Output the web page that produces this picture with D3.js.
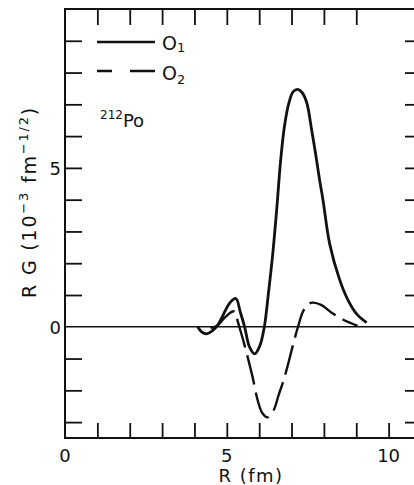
<!DOCTYPE html>
<html>
<head>
<meta charset="utf-8">
<script src="https://cdn.jsdelivr.net/npm/d3@7"></script>
<style>
  body { margin: 0; background: #fff; }
  text { font-family: "DejaVu Sans", sans-serif; fill: #111; }
</style>
</head>
<body>
<svg id="chart" width="414" height="485"></svg>
<script>
// O1 (solid) and O2 (dashed) radial form factors
const o1 = [
  [4.10, 0.00], [4.22, -0.16], [4.38, -0.22], [4.55, -0.13], [4.72, 0.05],
  [4.90, 0.40], [5.10, 0.76], [5.28, 0.89], [5.42, 0.45], [5.55, 0.00],
  [5.70, -0.63], [5.86, -0.85], [6.02, -0.60], [6.16, 0.00], [6.28, 1.00],
  [6.42, 2.30], [6.55, 3.80], [6.66, 5.20], [6.78, 6.30], [6.92, 7.05],
  [7.05, 7.40], [7.19, 7.47], [7.32, 7.38], [7.47, 7.05], [7.62, 6.20],
  [7.75, 5.40], [7.87, 4.60], [7.97, 4.00], [8.18, 2.60], [8.48, 1.50],
  [8.74, 0.85], [9.03, 0.38], [9.32, 0.13]
];
const o2 = [
  [4.50, -0.04], [4.72, 0.05], [4.95, 0.30], [5.15, 0.47], [5.25, 0.48],
  [5.34, 0.16], [5.50, -0.40], [5.65, -0.98], [5.80, -1.60], [5.95, -2.30],
  [6.10, -2.72], [6.27, -2.85], [6.45, -2.62], [6.60, -2.15], [6.75, -1.70],
  [6.90, -1.15], [7.05, -0.55], [7.20, 0.00], [7.35, 0.47], [7.50, 0.70],
  [7.65, 0.76], [7.93, 0.68], [8.24, 0.44], [8.60, 0.22], [9.04, 0.03]
];
const xTicks = d3.range(0, 11);
const xTopTicks = d3.range(1, 10);
const xLabels = [0, 5, 10];
const yTicks = [-3, -2, -1, 1, 2, 3, 4, 5, 6, 7, 8, 9];
const yLabels = [0, 5];

const svg = d3.select("#chart");
const x = d3.scaleLinear().domain([0, 11]).range([65, 421]);
const y = d3.scaleLinear().domain([-3.5, 10]).range([438, 9]);

// frame
svg.append("rect")
  .attr("x", x(0)).attr("y", y(10))
  .attr("width", x(11) - x(0)).attr("height", y(-3.5) - y(10))
  .attr("fill", "none").attr("stroke", "#111").attr("stroke-width", 2);

const tickStyle = g => {
  g.select(".domain").remove();
  g.selectAll(".tick line").attr("stroke", "#111").attr("stroke-width", 1.8);
  g.selectAll(".tick text").remove();
};

// inward ticks on all four sides
svg.append("g").attr("transform", `translate(0,${y(-3.5)})`)
  .call(d3.axisTop(x).tickValues(xTicks.slice(1)).tickSize(15)).call(tickStyle);
svg.append("g").attr("transform", `translate(0,${y(10)})`)
  .call(d3.axisBottom(x).tickValues(xTopTicks).tickSize(16)).call(tickStyle);
svg.append("g").attr("transform", `translate(${x(0)},0)`)
  .call(d3.axisRight(y).tickValues(yTicks).tickSize(17)).call(tickStyle);
svg.append("g").attr("transform", `translate(${x(11)},0)`)
  .call(d3.axisLeft(y).tickValues(yTicks).tickSize(16)).call(tickStyle);

// tick labels
svg.append("g").selectAll("text").data(xLabels).join("text")
  .attr("x", d => x(d)).attr("y", 462)
  .attr("text-anchor", "middle").attr("font-size", 18)
  .text(d => d);
svg.append("g").selectAll("text").data(yLabels).join("text")
  .attr("x", 61).attr("y", d => y(d) + 7)
  .attr("text-anchor", "end").attr("font-size", 18)
  .text(d => d);

// zero line
svg.append("line")
  .attr("x1", x(0)).attr("x2", x(11))
  .attr("y1", y(0)).attr("y2", y(0))
  .attr("stroke", "#111").attr("stroke-width", 1.6);

const line = d3.line()
  .x(d => x(d[0])).y(d => y(d[1]))
  .curve(d3.curveCatmullRom.alpha(0.5));

svg.append("path").datum(o1)
  .attr("d", line).attr("fill", "none")
  .attr("stroke", "#111").attr("stroke-width", 2.8);
svg.append("path").datum(o2)
  .attr("d", line).attr("fill", "none")
  .attr("stroke", "#111").attr("stroke-width", 2.4)
  .attr("stroke-dasharray", "30,8");

// legend
svg.append("line").attr("x1", 97).attr("x2", 155).attr("y1", 42).attr("y2", 42)
  .attr("stroke", "#111").attr("stroke-width", 2.6);
svg.append("line").attr("x1", 97).attr("x2", 155).attr("y1", 71).attr("y2", 71)
  .attr("stroke", "#111").attr("stroke-width", 2.6)
  .attr("stroke-dasharray", "15,18,25");

const lab1 = svg.append("text").attr("x", 162).attr("y", 50).attr("font-size", 19);
lab1.append("tspan").text("O");
lab1.append("tspan").attr("font-size", 13).attr("dy", 2).text("1");
const lab2 = svg.append("text").attr("x", 162).attr("y", 80).attr("font-size", 19);
lab2.append("tspan").text("O");
lab2.append("tspan").attr("font-size", 13).attr("dy", 4).text("2");

const iso = svg.append("text").attr("x", 100).attr("y", 127).attr("font-size", 18);
iso.append("tspan").attr("font-size", 12).attr("dy", -8).text("212");
iso.append("tspan").attr("dy", 8).text("Po");

// axis titles
svg.append("text")
  .attr("x", 251).attr("y", 482)
  .attr("text-anchor", "middle").attr("font-size", 18)
  .attr("letter-spacing", 1.5)
  .text("R (fm)");

const yt = svg.append("text")
  .attr("transform", "translate(36,202) rotate(-90)")
  .attr("text-anchor", "middle").attr("font-size", 19)
  .attr("letter-spacing", 1.8);
yt.append("tspan").text("R G (10");
yt.append("tspan").attr("font-size", 13).attr("dy", -8).text("−3");
yt.append("tspan").attr("dy", 8).text(" fm");
yt.append("tspan").attr("font-size", 13).attr("dy", -8).text("−1/2");
yt.append("tspan").attr("dy", 8).text(")");
</script>
</body>
</html>
